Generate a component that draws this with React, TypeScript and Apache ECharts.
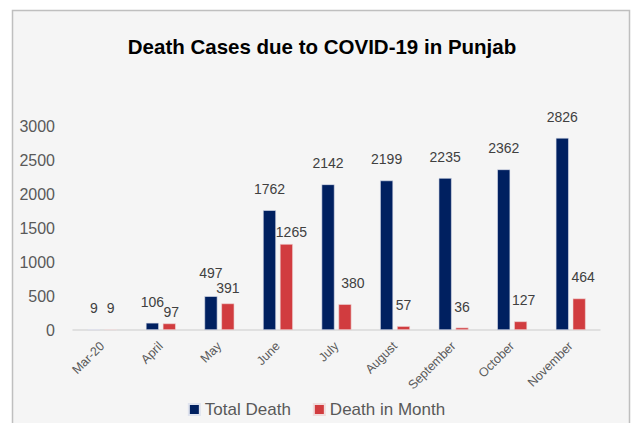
import React, { useEffect, useRef } from "react";
import * as echarts from "echarts";

const categories = ["Mar-20", "April", "May", "June", "July", "August", "September", "October", "November"];
const totalDeath = [9, 106, 497, 1762, 2142, 2199, 2235, 2362, 2826];
const deathInMonth = [9, 97, 391, 1265, 380, 57, 36, 127, 464];
const seriesNames = ["Total Death", "Death in Month"];
const titleText = "Death Cases due to COVID-19 in Punjab";

const FONT = "'Liberation Sans', 'DejaVu Sans', sans-serif";

// label nudges (pixel offsets of individual data labels, as in the reference)
const totalNudge: Record<number, [number, number]> = { 2: [0, -2] };
const monthNudge: Record<number, [number, number]> = {
  1: [2, 10],
  2: [0, 6],
  3: [5, 9],
  4: [8, 0],
  7: [3, 0],
  8: [4, 0],
};

function withNudge(values: number[], nudge: Record<number, [number, number]>) {
  return values.map((v, i) => (nudge[i] ? { value: v, label: { offset: nudge[i] } } : v));
}

export default function App() {
  const ref = useRef<HTMLDivElement>(null);
  useEffect(() => {
    document.body.style.margin = "0";
    const chart = echarts.init(ref.current!, null, { renderer: "svg" });
    const labelStyle = { show: true, position: "top", fontSize: 14, color: "#404040", distance: 14 };
    chart.setOption({
      animation: false,
      backgroundColor: "#ffffff",
      textStyle: { fontFamily: FONT },
      graphic: [
        {
          type: "rect",
          z: -10,
          silent: true,
          shape: { x: 12.5, y: 10.5, width: 617, height: 430 },
          style: { fill: "#f5f5f5", stroke: "#bfbfbf", lineWidth: 1.5 },
        },
        {
          type: "text",
          x: 322,
          y: 46,
          style: {
            text: titleText,
            fill: "#000000",
            font: `bold 20.5px ${FONT}`,
            textAlign: "center",
            textVerticalAlign: "middle",
          },
        },
      ],
      grid: { left: 73, right: 33, top: 126, bottom: 93, containLabel: false },
      legend: {
        top: 396,
        left: "center",
        icon: "rect",
        itemWidth: 11,
        itemHeight: 11,
        itemGap: 22,
        textStyle: { fontSize: 17, color: "#595959", fontFamily: FONT },
        data: seriesNames,
      },
      xAxis: {
        type: "category",
        data: categories,
        axisLine: { lineStyle: { color: "#d9d9d9", width: 1.5 } },
        axisTick: { show: false },
        axisLabel: { rotate: 45, fontSize: 12.5, color: "#595959", margin: 14, interval: 0 },
      },
      yAxis: {
        type: "value",
        min: 0,
        max: 3000,
        interval: 500,
        splitLine: { show: false },
        axisLine: { show: false },
        axisTick: { show: false },
        axisLabel: { fontSize: 16, color: "#595959", margin: 18, formatter: (v: number) => String(v) },
      },
      series: [
        {
          name: seriesNames[0],
          type: "bar",
          data: withNudge(totalDeath, totalNudge),
          barWidth: 13,
          barGap: "30%",
          itemStyle: { color: "#002060", borderColor: "#dfe3ee", borderWidth: 0.6 },
          label: labelStyle,
        },
        {
          name: seriesNames[1],
          type: "bar",
          data: withNudge(deathInMonth, monthNudge),
          barWidth: 13,
          itemStyle: { color: "#d13c3f", borderColor: "#f0dcdc", borderWidth: 0.6 },
          label: labelStyle,
        },
      ],
    });
    return () => chart.dispose();
  }, []);
  return <div ref={ref} style={{ width: 633, height: 423 }} />;
}
